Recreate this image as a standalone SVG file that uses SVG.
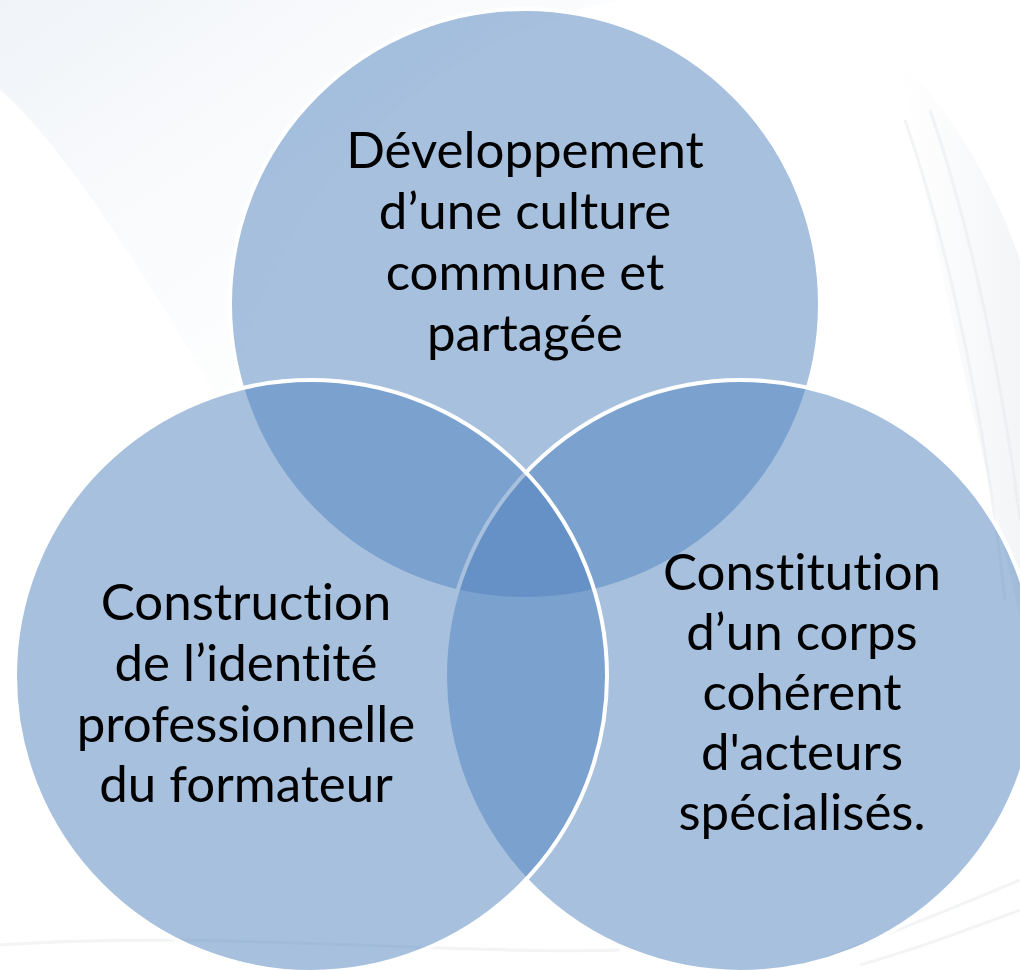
<svg xmlns="http://www.w3.org/2000/svg" width="1020" height="970" viewBox="0 0 1020 970">
  <defs>
    <linearGradient id="bgTL" x1="0" y1="0" x2="1" y2="1">
      <stop offset="0" stop-color="#eef2f7" stop-opacity="0.9"/>
      <stop offset="1" stop-color="#ffffff" stop-opacity="0"/>
    </linearGradient>
    <linearGradient id="bgR" x1="0" y1="0" x2="1" y2="0">
      <stop offset="0" stop-color="#e6e9ee" stop-opacity="0"/>
      <stop offset="1" stop-color="#e3e6eb" stop-opacity="0.8"/>
    </linearGradient>
  </defs>
  <style>
    .c { fill: #4F81BD; fill-opacity: 0.5; stroke: #ffffff; stroke-width: 4; }
    .t { font-family: Lato, "Open Sans", "Liberation Sans", sans-serif; font-size: 51px; fill: #000000; text-anchor: middle; font-variant-ligatures: none; font-feature-settings: "liga" 0; }
    .streak { fill: none; stroke: #e4e7ec; stroke-width: 3; opacity: 0.45; }
  </style>
  <rect width="1020" height="970" fill="#ffffff"/>
  <g id="background">
    <path d="M0,0 L620,0 C420,40 260,200 230,420 C150,280 60,140 0,90 Z" fill="url(#bgTL)"/>
    <path d="M900,60 C960,120 1000,200 1020,260 L1020,620 C990,480 950,330 900,60 Z" fill="url(#bgR)" opacity="0.5"/>
    <path class="streak" d="M905,120 C950,250 985,420 1005,600"/>
    <path class="streak" d="M930,110 C975,240 1005,400 1020,520"/>
    <path class="streak" d="M0,945 C200,930 450,955 620,950"/>
    <path class="streak" d="M820,960 C900,930 960,905 1020,880"/>
    <path class="streak" d="M860,965 C930,945 980,925 1020,910"/>
  </g>
  <g id="node-top">
    <circle class="c" cx="525" cy="304" r="295"/>
    <text class="t" x="525" y="168">Développement</text>
    <text class="t" x="525" y="229">d’une culture</text>
    <text class="t" x="525" y="290">commune et</text>
    <text class="t" x="525" y="351">partagée</text>
  </g>
  <g id="node-right">
    <circle class="c" cx="741" cy="676" r="296"/>
  </g>
  <g id="node-left">
    <circle class="c" cx="311" cy="676" r="296"/>
  </g>
  <g id="labels">
    <text class="t" x="246" y="620">Construction</text>
    <text class="t" x="246" y="681">de l’identité</text>
    <text class="t" x="246" y="742">professionnelle</text>
    <text class="t" x="246" y="802">du formateur</text>
    <text class="t" x="802" y="590">Constitution</text>
    <text class="t" x="802" y="650">d’un corps</text>
    <text class="t" x="802" y="710">cohérent</text>
    <text class="t" x="802" y="770">d'acteurs</text>
    <text class="t" x="802" y="830">spécialisés.</text>
  </g>
  <g id="connectors"></g>
</svg>
